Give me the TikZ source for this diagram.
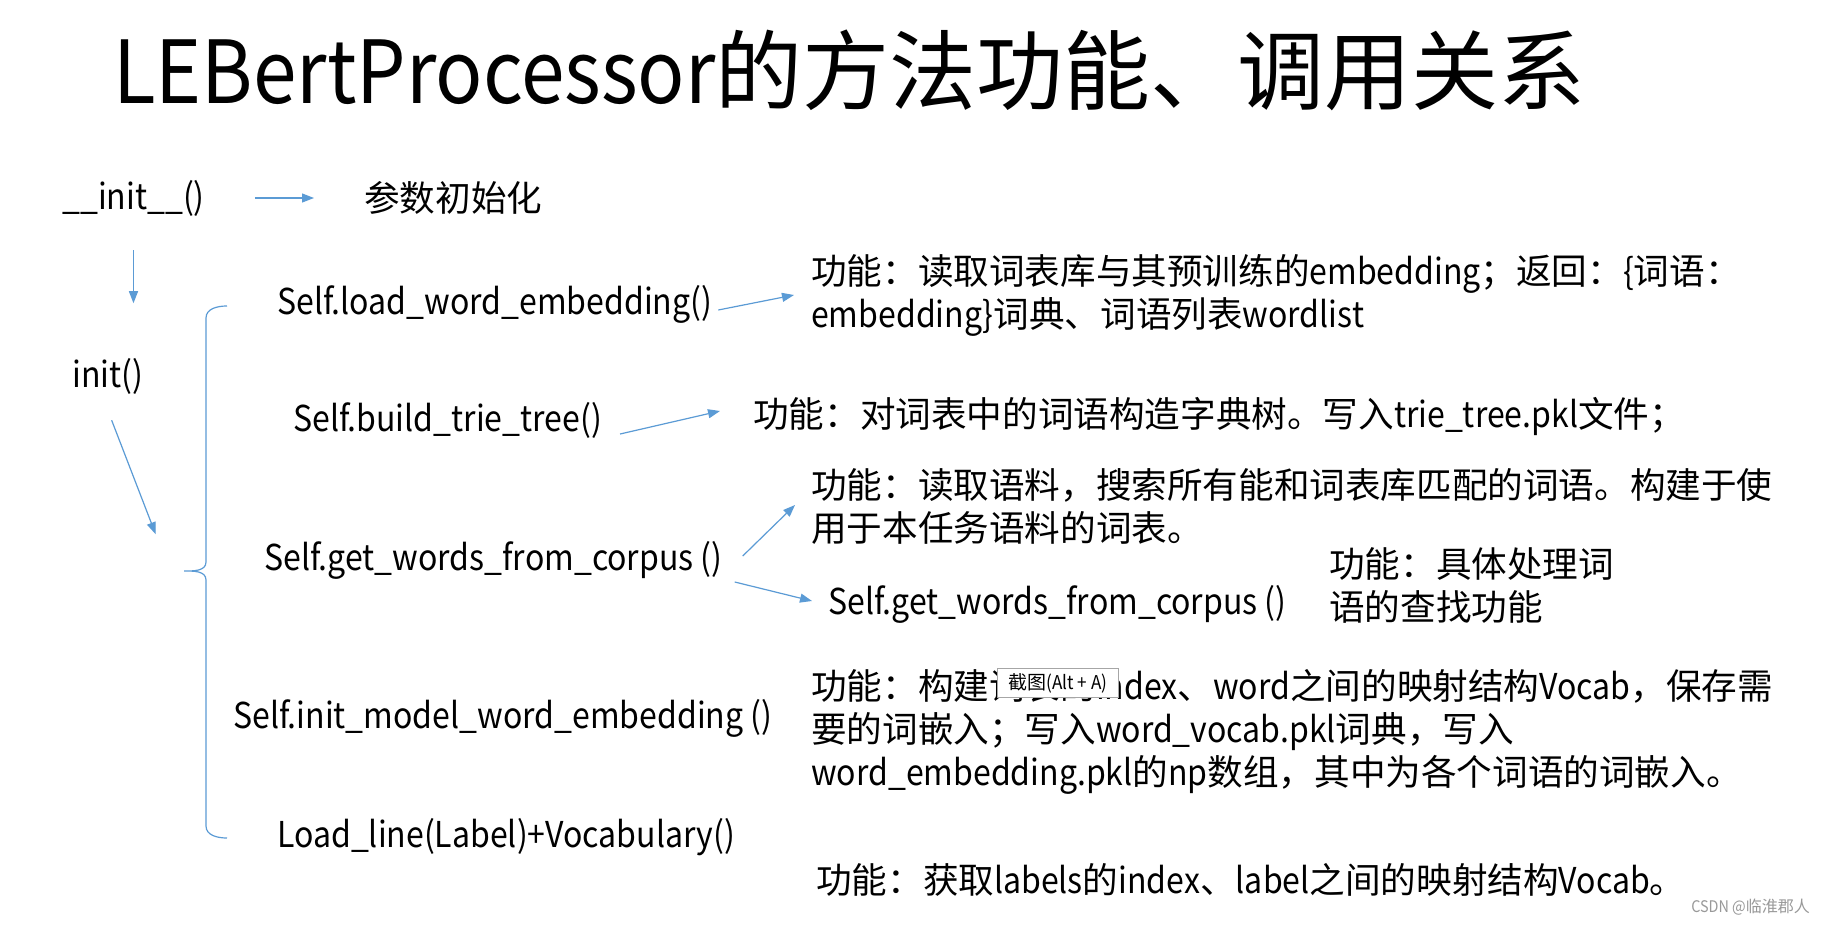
\documentclass[tikz,border=0pt]{standalone}
\usepackage{fontspec}
\setmainfont{Noto Sans CJK SC}
\newfontfamily\latn{Noto Sans CJK SC}[FakeStretch=0.9]
\newcommand\latw[1]{{\latn #1}}
\usetikzlibrary{arrows.meta}
\definecolor{linkblue}{RGB}{91,155,213}

\begin{document}
\begin{tikzpicture}[x=1pt,y=-1pt,
        txt/.style={anchor=west,inner sep=0pt,align=left,
          font=\fontsize{35.6}{43}\selectfont},
        mtd/.style={txt,font=\fontsize{35.6}{43}\latn},
        link/.style={draw=linkblue,line width=1.2pt,
          -{Triangle[length=12pt,width=9pt]}}]
  \useasboundingbox[fill=white] (0,0) rectangle (1825,925);
  \node[anchor=west,inner sep=0pt,font=\fontsize{87}{100}\selectfont] (title)
    at (113,70) {\latw{LEBertProcessor}的方法功能、调用关系};
  % left column
  \node[mtd] (initfn) at (62,198) {\_\_init\_\_()};
  \node[txt] (param) at (364,198) {参数初始化};
  \node[mtd] (initm) at (72,376) {init()};
  \draw[link] ([xshift=50pt]initfn.east) -- ([xshift=-50pt]param.west);
  \draw[link] (initfn.south) ++(0,34) -- ++(0,53);
  \draw[link] ([shift={(4,26)}]initm.south) -- ++(44,114);
  % brace
  \draw[linkblue,line width=1.2pt] (227,306) to[out=180,in=90] (206,318)
    -- (206,562) to[out=-90,in=0] (184,571) to[out=0,in=90] (206,580)
    -- (206,826) to[out=-90,in=180] (227,838);
  % methods
  \node[mtd] (load) at (277,304) {Self.load\_word\_embedding()};
  \node[mtd] (trie) at (293,420) {Self.build\_trie\_tree()};
  \node[mtd] (corpus) at (264,560) {Self.get\_words\_from\_corpus ()};
  \node[mtd] (corpus2) at (828,604) {Self.get\_words\_from\_corpus ()};
  \node[mtd] (model) at (233,718) {Self.init\_model\_word\_embedding ()};
  \node[mtd] (label) at (277,837) {Load\_line(Label)+Vocabulary()};
  % what they do
  \node[txt] (d1) at (811,295) {功能：读取词表库与其预训练的\latw{embedding}；返回：\latw{\{}词语：\\
    \latw{embedding\}}词典、词语列表\latw{wordlist}};
  \node[txt] (d2) at (753,416) {功能：对词表中的词语构造字典树。写入\latw{trie\_tree.pkl}文件；};
  \node[txt] (d3) at (811,506) {功能：读取语料，搜索所有能和词表库匹配的词语。构建于使\\
    用于本任务语料的词表。};
  \node[txt] (d4) at (1329,585) {功能：具体处理词\\语的查找功能};
  \node[txt] (d5) at (811,732) {功能：构建词表的\latw{index}、\latw{word}之间的映射结构\latw{Vocab}，保存需\\
    要的词嵌入；写入\latw{word\_vocab.pkl}词典，写入\\
    \latw{word\_embedding.pkl}的\latw{np}数组，其中为各个词语的词嵌入。};
  \node[txt] (d6) at (816,880) {功能：获取\latw{labels}的\latw{index}、\latw{label}之间的映射结构\latw{Vocab}。};
  \draw[link] ([shift={(6,6)}]load.east) -- ([xshift=-17pt]d1.west);
  \draw[link] ([shift={(18,14)}]trie.east) -- ([shift={(-33,-5)}]d2.west);
  \draw[link] ([shift={(20,-4)}]corpus.east) -- ([shift={(-16,-1)}]d3.west);
  \draw[link] ([shift={(12,22)}]corpus.east) -- ([shift={(-16,-3)}]corpus2.west);
  % screenshot tip and mark
  \node[draw=black!35,fill=white,inner sep=2pt,minimum width=121pt,minimum height=29pt,
    font=\fontsize{19}{22}\selectfont] (tip) at (1058,683) {截图\latw{(Alt + A)}};
  \node[anchor=east,inner sep=0pt,text=black!40,font=\fontsize{16}{19}\selectfont] (mark)
    at (1810,907) {\latw{CSDN @}临淮郡人};
\end{tikzpicture}
\end{document}
